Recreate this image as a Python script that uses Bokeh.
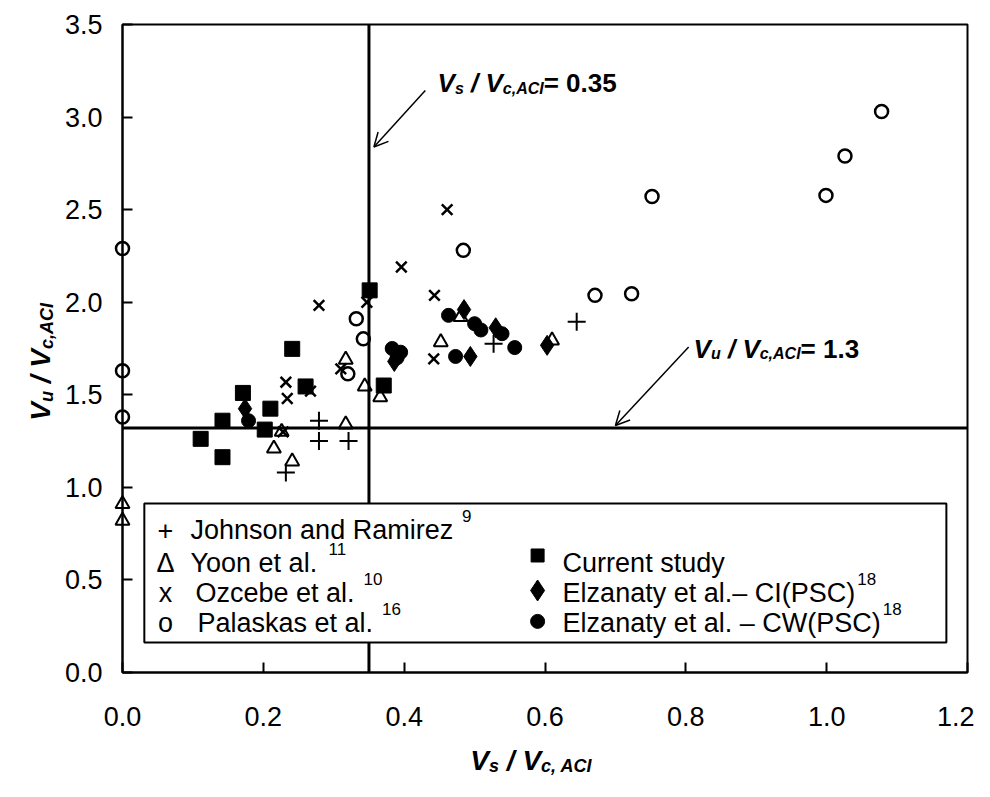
from math import pi
from bokeh.plotting import figure
from bokeh.models import Range1d, FixedTicker, PrintfTickFormatter, Label, Arrow, OpenHead
from bokeh.embed import file_html
from bokeh.resources import INLINE

# ---------------- data ----------------
x_ticks = [0.0, 0.2, 0.4, 0.6, 0.8, 1.0, 1.2]
y_ticks = [0.0, 0.5, 1.0, 1.5, 2.0, 2.5, 3.0, 3.5]
x_lim = (0.0, 1.2)
y_lim = (0.0, 3.5)

vs_limit = 0.35   # Vs / Vc,ACI = 0.35
vu_limit = 1.32   # Vu / Vc,ACI = 1.3 (as drawn)

johnson_x = [0.232, 0.279, 0.279, 0.321, 0.527, 0.645]
johnson_y = [1.08, 1.36, 1.25, 1.25, 1.775, 1.895]

yoon_x = [0.0, 0.0, 0.215, 0.241, 0.226, 0.317, 0.317, 0.344, 0.366, 0.452, 0.480, 0.610]
yoon_y = [0.91, 0.82, 1.21, 1.14, 1.30, 1.34, 1.69, 1.545, 1.487, 1.784, 1.92, 1.794]

ozcebe_x = [0.228, 0.232, 0.234, 0.267, 0.279, 0.310, 0.347, 0.396, 0.443, 0.461, 0.442]
ozcebe_y = [1.30, 1.568, 1.48, 1.52, 1.983, 1.64, 2.00, 2.19, 2.037, 2.50, 1.694]

palaskas_x = [0.0, 0.0, 0.0, 0.320, 0.332, 0.342, 0.484, 0.671, 0.723, 0.752, 0.999, 1.026, 1.078]
palaskas_y = [2.29, 1.63, 1.38, 1.613, 1.911, 1.802, 2.28, 2.037, 2.046, 2.571, 2.577, 2.79, 3.03]

current_x = [0.111, 0.142, 0.142, 0.171, 0.202, 0.210, 0.241, 0.260, 0.351, 0.371]
current_y = [1.262, 1.36, 1.163, 1.51, 1.312, 1.425, 1.748, 1.545, 2.064, 1.55]

ci_x = [0.174, 0.386, 0.485, 0.494, 0.530, 0.603]
ci_y = [1.425, 1.68, 1.96, 1.707, 1.862, 1.767]

cw_x = [0.179, 0.383, 0.395, 0.390, 0.463, 0.473, 0.500, 0.509, 0.539, 0.557]
cw_y = [1.36, 1.75, 1.73, 1.70, 1.929, 1.707, 1.884, 1.85, 1.83, 1.755]

legend_left = ["Johnson and Ramirez", "Yoon et al.", "Ozcebe et al.", "Palaskas et al."]
legend_left_sym = ["+", "\u0394", "x", "o"]
legend_left_sup = ["9", "11", "10", "16"]
legend_right = ["Current study", "Elzanaty et al.\u2013 CI(PSC)", "Elzanaty et al. \u2013 CW(PSC)"]
legend_right_sup = ["", "18", "18"]

FONT = "Liberation Sans"

# approximate Arial advance widths (per 1000 em) for laying out rich text
AR = {" ": 278, "(": 333, ")": 333, ",": 278, ".": 278, "/": 278, "=": 584, "\u2013": 556,
      "A": 667, "C": 722, "E": 667, "I": 278, "J": 500, "O": 778, "P": 667, "R": 722,
      "S": 667, "V": 667, "W": 944, "Y": 667, "a": 556, "b": 556, "c": 500, "d": 556,
      "e": 556, "h": 556, "i": 222, "k": 500, "l": 222, "m": 833, "n": 556, "o": 556,
      "r": 333, "s": 500, "t": 278, "u": 556, "y": 500, "z": 500}
ARB = {" ": 278, ",": 278, ".": 278, "/": 278, "=": 584, "A": 722, "C": 722, "I": 278,
       "V": 667, "c": 556, "s": 556, "u": 611}


def text_width(s, size, bold=False):
    table = ARB if bold else AR
    return sum(table.get(ch, 556) for ch in s) * size / 1000.0


def rich_label(p, parts, x, y, angle=0.0):
    adv = 0.0
    for txt, size, shift, style in parts:
        bold = "bold" in style
        lead = len(txt) - len(txt.lstrip(" "))
        adv += text_width(" " * lead, size, bold)
        core = txt.strip(" ")
        if angle == 0:
            xo, yo = adv, shift
        else:
            xo, yo = -shift, adv
        p.add_layout(Label(x=x, y=y, x_offset=xo, y_offset=yo, text=core, angle=angle,
                           text_font=FONT, text_font_size=f"{size}px",
                           text_font_style=style, text_color="black",
                           text_baseline="alphabetic", text_align="left"))
        adv += text_width(core, size, bold)
        trail = len(txt) - len(txt.rstrip(" "))
        adv += text_width(" " * trail, size, bold)
    return adv


# canvas geometry: plot box spans 845 x 648 px, placed at (122, 24) in a 974 x 781 canvas
W, H = 974, 781
BOX_L, BOX_T, BOX_W, BOX_H = 122, 24, 845, 648
sx = BOX_W / (x_lim[1] - x_lim[0])
sy = BOX_H / (y_lim[1] - y_lim[0])
xr = Range1d(x_lim[0] - BOX_L / sx, x_lim[0] + (W - BOX_L) / sx)
yr = Range1d(y_lim[0] - (H - BOX_T - BOX_H) / sy, y_lim[0] + (BOX_T + BOX_H) / sy)

p = figure(width=W, height=H, output_backend="svg", toolbar_location=None,
           x_range=xr, y_range=yr,
           min_border_left=0, min_border_right=0, min_border_top=0, min_border_bottom=0)
p.background_fill_color = "white"
p.border_fill_color = "white"
p.grid.visible = False
p.outline_line_color = None

p.xaxis[0].fixed_location = 0
p.yaxis[0].fixed_location = 0
p.xaxis[0].bounds = x_lim
p.yaxis[0].bounds = y_lim
for ax, ticks in ((p.xaxis[0], x_ticks), (p.yaxis[0], y_ticks)):
    ax.ticker = FixedTicker(ticks=ticks)
    ax.formatter = PrintfTickFormatter(format="%.1f")
    ax.axis_line_width = 2
    ax.axis_line_color = "black"
    ax.major_tick_in = 10
    ax.major_tick_out = 0
    ax.major_tick_line_width = 2
    ax.minor_tick_line_color = None
    ax.major_label_text_font = FONT
    ax.major_label_text_font_size = "27px"
    ax.major_label_text_color = "black"
p.xaxis[0].major_label_standoff = 34
p.yaxis[0].major_label_standoff = 20

# plot box (top and right sides)
p.quad(left=[x_lim[0]], right=[x_lim[1]], bottom=[y_lim[0]], top=[y_lim[1]],
       fill_color=None, line_color="black", line_width=2)

# reference lines
p.segment(x0=[vs_limit], y0=[y_lim[0]], x1=[vs_limit], y1=[y_lim[1]], line_color="black", line_width=3)
p.segment(x0=[x_lim[0]], y0=[vu_limit], x1=[x_lim[1]], y1=[vu_limit], line_color="black", line_width=3)

# data series
p.scatter(palaskas_x, palaskas_y, marker="circle", size=13, fill_color=None,
          line_color="black", line_width=2.5)
p.scatter(yoon_x, yoon_y, marker="triangle", size=14, fill_color=None,
          line_color="black", line_width=2)
p.scatter(johnson_x, johnson_y, marker="cross", size=18, line_color="black", line_width=2)
p.scatter(ozcebe_x, ozcebe_y, marker="x", size=15, line_color="black", line_width=2.5)
p.scatter(current_x, current_y, marker="square", size=15, fill_color="black", line_color="black")
p.scatter(ci_x, ci_y, marker="diamond", size=20, fill_color="black", line_color="black")
p.scatter(cw_x, cw_y, marker="circle", size=14, fill_color="black", line_color="black")

# legend (drawn by hand so that the superscript references can be kept)
p.quad(left=[0.031], right=[1.170], bottom=[0.162], top=[0.913],
       fill_color="white", line_color="black", line_width=2)
row_y = [0.767, 0.594, 0.432, 0.270]
left_text_x = [0.0966, 0.0966, 0.1037, 0.1065]
LEG = 27
SUP = 17
for i, name in enumerate(legend_left):
    p.add_layout(Label(x=0.061, y=row_y[i], text=legend_left_sym[i], text_font=FONT,
                       text_font_size=f"{LEG}px", text_align="center",
                       text_baseline="alphabetic", text_color="black"))
    p.add_layout(Label(x=left_text_x[i], y=row_y[i], text=name, text_font=FONT,
                       text_font_size=f"{LEG}px", text_align="left",
                       text_baseline="alphabetic", text_color="black"))
    w = text_width(name, LEG) + 9
    p.add_layout(Label(x=left_text_x[i], y=row_y[i], x_offset=w, y_offset=14,
                       text=legend_left_sup[i], text_font=FONT, text_font_size=f"{SUP}px",
                       text_align="left", text_baseline="alphabetic", text_color="black"))

right_marker_y = [0.632, 0.443, 0.276]
p.scatter([0.5895], [right_marker_y[0]], marker="square", size=13, fill_color="black", line_color="black")
p.scatter([0.5895], [right_marker_y[1]], marker="diamond", size=21, fill_color="black", line_color="black")
p.scatter([0.5895], [right_marker_y[2]], marker="circle", size=14, fill_color="black", line_color="black")
for i, name in enumerate(legend_right):
    p.add_layout(Label(x=0.625, y=row_y[i + 1], text=name, text_font=FONT,
                       text_font_size=f"{LEG}px", text_align="left",
                       text_baseline="alphabetic", text_color="black"))
    if legend_right_sup[i]:
        w = text_width(name, LEG) + 2
        p.add_layout(Label(x=0.625, y=row_y[i + 1], x_offset=w, y_offset=14,
                           text=legend_right_sup[i], text_font=FONT, text_font_size=f"{SUP}px",
                           text_align="left", text_baseline="alphabetic", text_color="black"))

# annotations with arrows
BI = "bold italic"
rich_label(p, [("V", 26, 0, BI), ("s", 16, -5, BI), (" / ", 26, 0, BI), ("V", 26, 0, BI),
               ("c,ACI", 16, -5, BI), ("= 0.35", 26, 0, "bold")], 0.4474, 3.182)
p.add_layout(Arrow(end=OpenHead(size=14, line_width=1.5, line_color="black"),
                   x_start=0.430, y_start=3.144, x_end=0.357, y_end=2.838,
                   line_width=1.5, line_color="black"))
rich_label(p, [("V", 26, 0, BI), ("u", 16, -5, BI), (" / ", 26, 0, BI), ("V", 26, 0, BI),
               ("c,ACI", 16, -5, BI), ("= 1.3", 26, 0, "bold")], 0.811, 1.750)
p.add_layout(Arrow(end=OpenHead(size=14, line_width=1.5, line_color="black"),
                   x_start=0.804, y_start=1.758, x_end=0.700, y_end=1.334,
                   line_width=1.5, line_color="black"))

# axis titles
rich_label(p, [("V", 28, 0, BI), ("s", 18, -6, BI), (" / ", 28, 0, BI), ("V", 28, 0, BI),
               ("c, ACI", 18, -6, BI)], 0.494, -0.475)
rich_label(p, [("V", 28, 0, BI), ("u", 18, -7, BI), (" / ", 28, 0, BI), ("V", 28, 0, BI),
               ("c,ACI", 18, -7, BI)], -0.1165, 1.36, angle=pi / 2)

open("out.html", "w").write(file_html(p, INLINE))
